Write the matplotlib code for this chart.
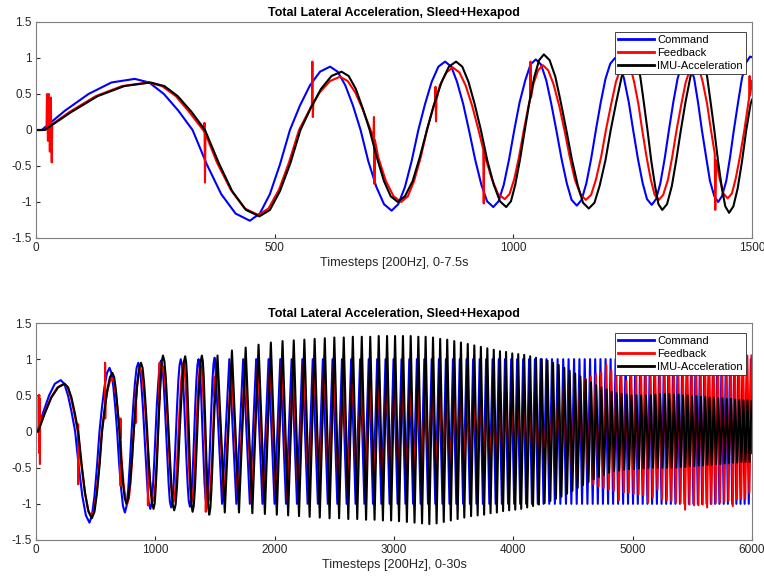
import numpy as np
import matplotlib
matplotlib.use('Agg')
import matplotlib.pyplot as plt

plt.rcParams['font.family'] = ['Liberation Sans', 'DejaVu Sans']

# ------------------------------------------------------------
# data: (timestep, value) key points
# 0..1500 (upper plot, also start of lower plot)
# ------------------------------------------------------------
cmd_top = [
    (0, 0), (12, 0), (61, .27), (110, .50), (158, .66), (207, .71),
    (237, .66), (268, .50), (298, .27), (328, 0),
    (358, -.48), (388, -.89), (418, -1.16), (448, -1.26),
    (469, -1.16), (490, -.89), (511, -.48), (532, 0),
    (553, .34), (574, .62), (595, .81), (616, .88),
    (632, .81), (648, .62), (664, .34), (680, 0),
    (696, -.43), (713, -.79), (729, -1.03), (745, -1.12),
    (759, -1.03), (773, -.79), (787, -.43), (801, 0),
    (815, .36), (829, .67), (843, .88), (857, .95),
    (870, .88), (882, .67), (895, .36), (907, 0),
    (920, -.41), (933, -.76), (945, -.99), (958, -1.07),
    (969, -.99), (980, -.76), (991, -.41), (1002, 0),
    (1013, .38), (1025, .69), (1036, .91), (1047, .98),
    (1058, .91), (1069, .69), (1079, .38), (1090, 0),
    (1101, -.40), (1112, -.74), (1122, -.97), (1133, -1.05),
    (1143, -.97), (1153, -.74), (1163, -.40), (1173, 0),
    (1183, .38), (1193, .71), (1203, .92), (1213, 1.0),
    (1223, .92), (1232, .71), (1242, .38), (1251, 0),
    (1261, -.40), (1271, -.74), (1280, -.96), (1290, -1.04),
    (1299, -.96), (1308, -.74), (1317, -.40), (1326, 0),
    (1335, .38), (1344, .71), (1353, .92), (1362, 1.0),
    (1370, .92), (1379, .71), (1387, .38), (1395, 0),
    (1404, -.38), (1412, -.71), (1421, -.92), (1429, -1.0),
    (1437, -.92), (1446, -.71), (1454, -.38), (1462, 0),
    (1471, .39), (1479, .72), (1488, .94), (1496, 1.02), (1500, 1.01),
]

fb_top = [
    (0, 0), (15, 0), (22, .01), (23, .5), (25, -.15), (27, .5), (29, -.3),
    (31, .45), (33, -.45), (34, .08),
    (70, .25), (125, .47), (180, .61), (235, .66),
    (264, .61), (293, .47), (321, .25), (350, 0),
    (352, -.02), (353, .1), (354, -.73), (355, -.05),
    (379, -.45), (408, -.83), (437, -1.09), (466, -1.18),
    (487, -1.09), (509, -.83), (530, -.45), (551, 0),
    (573, .28), (578, .35), (579, .95), (580, .18), (581, .37),
    (594, .52), (616, .68), (637, .74),
    (653, .68), (669, .52), (685, .28), (701, 0),
    (707, -.1), (708, .18), (709, -.75), (710, -.14),
    (717, -.38), (733, -.71), (749, -.92), (765, -1.0),
    (779, -.92), (792, -.71), (806, -.38), (819, 0),
    (833, .33), (836, .38), (837, .6), (838, .12), (839, .42),
    (846, .62), (860, .80), (873, .87),
    (887, .80), (900, .62), (914, .33), (927, 0),
    (937, -.27), (938, -1.02), (939, -.3),
    (941, -.37), (955, -.68), (968, -.89), (982, -.96),
    (992, -.89), (1002, -.68), (1012, -.37), (1022, 0),
    (1032, .34), (1035, .42), (1036, .95), (1037, .45),
    (1042, .64), (1052, .83), (1062, .9),
    (1073, .83), (1084, .64), (1096, .34), (1107, 0),
    (1118, -.37), (1129, -.69), (1141, -.9), (1152, -.97),
    (1163, -.9), (1173, -.69), (1184, -.37), (1194, 0),
    (1205, .36), (1215, .67), (1226, .88), (1236, .95),
    (1245, .88), (1253, .67), (1262, .36), (1270, 0),
    (1279, -.37), (1288, -.69), (1296, -.9), (1305, -.97),
    (1314, -.9), (1324, -.69), (1333, -.37), (1342, 0),
    (1352, .36), (1361, .66), (1371, .86), (1380, .93),
    (1389, .86), (1397, .66), (1406, .36), (1414, 0),
    (1422, -.33), (1423, -1.11), (1425, -.42),
    (1432, -.67), (1440, -.88), (1449, -.95),
    (1458, -.88), (1466, -.67), (1475, -.36), (1484, 0),
    (1492, .36), (1494, .45), (1495, .75), (1496, .48), (1500, .68),
]

imu_top = [
    (0, 0), (18, 0), (74, .25), (129, .47), (185, .61), (240, .66),
    (269, .61), (297, .47), (326, .25), (354, 0),
    (383, -.46), (411, -.85), (440, -1.11), (468, -1.2),
    (490, -1.11), (511, -.85), (533, -.46), (554, 0),
    (576, .31), (597, .57), (619, .75), (640, .81),
    (655, .75), (670, .57), (684, .31), (699, 0),
    (714, -.38), (729, -.71), (743, -.92), (758, -1.0),
    (773, -.92), (789, -.71), (804, -.38), (819, 0),
    (834, .36), (850, .67), (865, .88), (880, .95),
    (893, .88), (906, .67), (919, .36), (932, 0),
    (945, -.41), (959, -.76), (972, -.99), (985, -1.07),
    (995, -.99), (1004, -.76), (1014, -.41), (1024, 0),
    (1034, .40), (1044, .74), (1054, .97), (1064, 1.05),
    (1076, .97), (1088, .74), (1099, .40), (1111, 0),
    (1123, -.42), (1135, -.77), (1146, -1.01), (1158, -1.09),
    (1170, -1.01), (1181, -.77), (1193, -.42), (1204, 0),
    (1216, .40), (1227, .74), (1239, .96), (1250, 1.04),
    (1258, .96), (1266, .74), (1273, .40), (1281, 0),
    (1289, -.43), (1297, -.78), (1304, -1.03), (1312, -1.11),
    (1322, -1.03), (1332, -.78), (1341, -.43), (1351, 0),
    (1361, .40), (1371, .74), (1380, .97), (1390, 1.05),
    (1398, .97), (1406, .74), (1413, .40), (1421, 0),
    (1429, -.44), (1437, -.81), (1444, -1.06), (1452, -1.15),
    (1461, -1.06), (1470, -.81), (1479, -.44), (1488, 0),
    (1497, .36), (1500, .42),
]

# ------------------------------------------------------------
# 1500..6000 (lower plot only): peaks / troughs
# ------------------------------------------------------------
cmd_ext = [
    (1559, -1.0), (1620, 1.0), (1679, -1.0), (1736, 1.0), (1792, -1.0), (1845, 1.0),
    (1898, -1.0), (1949, 1.0), (1999, -1.0), (2047, 1.0), (2095, -1.0), (2142, 1.0),
    (2187, -1.0), (2232, 1.0), (2276, -1.0), (2319, 1.0), (2362, -1.0), (2404, 1.0),
    (2445, -1.0), (2485, 1.0), (2525, -1.0), (2564, 1.0), (2603, -1.0), (2641, 1.0),
    (2678, -1.0), (2716, 1.0), (2752, -1.0), (2788, 1.0), (2824, -1.0), (2859, 1.0),
    (2894, -1.0), (2929, 1.0), (2963, -1.0), (2996, 1.0), (3030, -1.0), (3063, 1.0),
    (3096, -1.0), (3128, 1.0), (3160, -1.0), (3192, 1.0), (3223, -1.0), (3254, 1.0),
    (3285, -1.0), (3316, 1.0), (3346, -1.0), (3376, 1.0), (3406, -1.0), (3435, 1.0),
    (3465, -1.0), (3494, 1.0), (3522, -1.0), (3551, 1.0), (3579, -1.0), (3608, 1.0),
    (3636, -1.0), (3663, 1.0), (3691, -1.0), (3718, 1.0), (3745, -1.0), (3772, 1.0),
    (3799, -1.0), (3826, 1.0), (3852, -1.0), (3878, 1.0), (3904, -1.0), (3930, 1.0),
    (3956, -1.0), (3982, 1.0), (4007, -1.0), (4032, 1.0), (4057, -1.0), (4082, 1.0),
    (4107, -1.0), (4132, 1.0), (4156, -1.0), (4181, 1.0), (4205, -1.0), (4229, 1.0),
    (4253, -1.0), (4277, 1.0), (4301, -1.0), (4324, 1.0), (4348, -1.0), (4371, 1.0),
    (4394, -1.0), (4418, 1.0), (4441, -1.0), (4463, 1.0), (4486, -1.0), (4509, 1.0),
    (4531, -1.0), (4554, 1.0), (4576, -1.0), (4598, 1.0), (4621, -1.0), (4643, 1.0),
    (4665, -1.0), (4686, 1.0), (4708, -1.0), (4730, 1.0), (4751, -1.0), (4773, 1.0),
    (4794, -1.0), (4815, 1.0), (4836, -1.0), (4857, 1.0), (4878, -1.0), (4899, 1.0),
    (4920, -1.0), (4941, 1.0), (4961, -1.0), (4982, 1.0), (5003, -1.0), (5023, 1.0),
    (5043, -1.0), (5063, 1.0), (5084, -1.0), (5104, 1.0), (5124, -1.0), (5144, 1.0),
    (5163, -1.0), (5183, 1.0), (5203, -1.0), (5222, 1.0), (5242, -1.0), (5262, 1.0),
    (5281, -1.0), (5300, 1.0), (5320, -1.0), (5339, 1.0), (5358, -1.0), (5377, 1.0),
    (5396, -1.0), (5415, 1.0), (5434, -1.0), (5453, 1.0), (5471, -1.0), (5490, 1.0),
    (5509, -1.0), (5527, 1.0), (5546, -1.0), (5564, 1.0), (5582, -1.0), (5601, 1.0),
    (5619, -1.0), (5637, 1.0), (5655, -1.0), (5673, 1.0), (5691, -1.0), (5709, 1.0),
    (5727, -1.0), (5745, 1.0), (5763, -1.0), (5781, 1.0), (5798, -1.0), (5816, 1.0),
    (5834, -1.0), (5851, 1.0), (5869, -1.0), (5886, 1.0), (5904, -1.0), (5921, 1.0),
    (5938, -1.0), (5956, 1.0), (5973, -1.0), (5990, 1.0), (6000, -0.3),
]

fb_ext = [
    (1516, .92),
    (1576, -.96), (1637, .93), (1695, -.97), (1752, .95), (1807, -.98), (1860, .96),
    (1913, -.98), (1963, .97), (2013, -.98), (2061, .98), (2108, -.97), (2155, .97),
    (2200, -.95), (2244, .96), (2288, -.93), (2331, .94), (2374, -.91), (2415, .92),
    (2456, -.88), (2496, .9), (2536, -.85), (2575, .87), (2613, -.82), (2651, .83),
    (2688, -.77), (2726, .78), (2762, -.72), (2798, .74), (2834, -.69), (2868, .71),
    (2903, -.67), (2938, .69), (2972, -.64), (3005, .66), (3039, -.61), (3072, .64),
    (3105, -.59), (3137, .61), (3169, -.56), (3200, .59), (3231, -.54), (3262, .56),
    (3293, -.52), (3324, .55), (3354, -.5), (3384, .53), (3414, -.48), (3443, .51),
    (3473, -.46), (3502, .49), (3530, -.44), (3559, .47), (3586, -.42), (3615, .45),
    (3643, -.4), (3670, .42), (3698, -.38), (3725, .4), (3752, -.36), (3779, .38),
    (3806, -.34), (3833, .36), (3859, -.32), (3885, .34), (3911, -.3), (3937, .32),
    (3963, -.28), (3989, .3), (4014, -.28), (4039, .3), (4064, -.3), (4089, .33),
    (4113, -.32), (4138, .36), (4162, -.34), (4187, .4), (4211, -.37), (4235, .43),
    (4259, -.4), (4283, .47), (4307, -.44), (4330, .51), (4354, -.47), (4377, .55),
    (4400, -.51), (4424, .59), (4447, -.55), (4469, .63), (4492, -.59), (4515, .67),
    (4537, -.63), (4560, .7), (4582, -.66), (4604, .73), (4627, -.7), (4649, .76),
    (4671, -.73), (4692, .79), (4714, -.76), (4736, .82), (4757, -.78), (4779, .92),
    (4800, -.8), (4821, .85), (4842, -.82), (4863, .84), (4884, -.95), (4905, .83),
    (4926, -.84), (4947, .7), (4967, -.85), (4988, .82), (5009, -.86), (5029, .83),
    (5049, -.87), (5069, .95), (5089, -.88), (5109, .85), (5129, -.98), (5149, .86),
    (5168, -.91), (5188, .87), (5208, -.8), (5227, .89), (5247, -.94), (5267, .9),
    (5286, -.95), (5305, 1.0), (5325, -.96), (5344, .93), (5363, -.98), (5382, .85),
    (5401, -.99), (5420, .95), (5439, -1.08), (5458, .96), (5476, -1.01), (5495, .97),
    (5514, -1.02), (5532, .98), (5551, -1.02), (5569, .9), (5587, -1.01), (5606, 1.0),
    (5624, -1.05), (5642, 1.01), (5660, -1.0), (5678, 1.02), (5696, -.99), (5714, 1.02),
    (5732, -.98), (5750, .95), (5768, -.97), (5786, 1.03), (5803, -.96), (5821, 1.04),
    (5839, -1.03), (5856, 1.04), (5874, -.94), (5891, 1.05), (5909, -.93), (5926, .98),
    (5943, -.93), (5961, 1.05), (5978, -.85), (5995, 1.05),
]

imu_ext = [
    (1521, 1.05),
    (1582, -1.12), (1642, 1.12), (1701, -1.12), (1757, 1.16), (1813, -1.13), (1865, 1.2),
    (1918, -1.14), (1968, 1.23), (2018, -1.15), (2066, 1.25), (2113, -1.16), (2160, 1.26),
    (2204, -1.17), (2249, 1.27), (2293, -1.18), (2335, 1.28), (2378, -1.19), (2420, 1.29),
    (2460, -1.2), (2500, 1.3), (2540, -1.2), (2579, 1.3), (2617, -1.21), (2655, 1.31),
    (2692, -1.21), (2730, 1.31), (2766, -1.22), (2801, 1.31), (2837, -1.22), (2872, 1.32),
    (2907, -1.23), (2942, 1.32), (2976, -1.23), (3009, 1.32), (3042, -1.24), (3075, 1.32),
    (3108, -1.25), (3140, 1.32), (3172, -1.26), (3204, 1.31), (3235, -1.27), (3265, 1.31),
    (3296, -1.28), (3327, 1.3), (3357, -1.27), (3387, 1.28), (3417, -1.25), (3446, 1.27),
    (3476, -1.23), (3505, 1.25), (3533, -1.21), (3561, 1.23), (3589, -1.19), (3618, 1.21),
    (3646, -1.17), (3673, 1.19), (3701, -1.16), (3728, 1.17), (3755, -1.15), (3782, 1.15),
    (3809, -1.13), (3836, 1.13), (3862, -1.12), (3888, 1.11), (3914, -1.1), (3939, 1.1),
    (3965, -1.09), (3991, 1.08), (4016, -1.08), (4041, 1.07), (4066, -1.07), (4091, 1.06),
    (4116, -1.05), (4141, 1.04), (4165, -1.03), (4190, 1.02), (4214, -1.01), (4238, 1.0),
    (4262, -.99), (4286, .98), (4310, -.96), (4333, .95), (4357, -.93), (4380, .92),
    (4403, -.9), (4427, .88), (4450, -.86), (4472, .84), (4495, -.82), (4518, .8),
    (4539, -.78), (4562, .76), (4584, -.74), (4606, .72), (4629, -.7), (4651, .68),
    (4673, -.66), (4694, .64), (4716, -.63), (4738, .61), (4759, -.6), (4781, .58),
    (4802, -.57), (4823, .55), (4844, -.55), (4865, .53), (4886, -.54), (4907, .52),
    (4928, -.53), (4949, .51), (4969, -.52), (4990, .5), (5011, -.52), (5031, .5),
    (5051, -.51), (5071, .5), (5091, -.51), (5111, .5), (5131, -.5), (5151, .5),
    (5170, -.5), (5190, .51), (5210, -.5), (5229, .52), (5249, -.5), (5269, .52),
    (5288, -.5), (5307, .52), (5327, -.5), (5346, .51), (5365, -.5), (5384, .51),
    (5403, -.49), (5422, .5), (5441, -.49), (5460, .5), (5478, -.48), (5497, .49),
    (5516, -.48), (5534, .49), (5553, -.47), (5571, .48), (5589, -.47), (5608, .48),
    (5626, -.46), (5644, .47), (5662, -.46), (5680, .47), (5698, -.45), (5716, .46),
    (5734, -.45), (5752, .46), (5770, -.44), (5788, .45), (5805, -.44), (5823, .45),
    (5841, -.43), (5858, .44), (5876, -.43), (5893, .44), (5911, -.42), (5928, .43),
    (5945, -.42), (5962, .43), (5979, -.42), (5996, .42),
]

labels = ['Command', 'Feedback', 'IMU-Acceleration']
colors = ['#0000ff', '#ff0000', '#000000']
title = 'Total Lateral Acceleration, Sleed+Hexapod'
xlabels = ['Timesteps [200Hz], 0-7.5s', 'Timesteps [200Hz], 0-30s']
yticks = [-1.5, -1, -0.5, 0, 0.5, 1, 1.5]
xticks_top = [0, 500, 1000, 1500]
xticks_bot = [0, 1000, 2000, 3000, 4000, 5000, 6000]


def to_xy(pts):
    a = np.array(pts, dtype=float)
    return a[:, 0], a[:, 1]


top_series = [cmd_top, fb_top, imu_top]
bot_series = [cmd_top + cmd_ext, fb_top + fb_ext, imu_top + imu_ext]

# ------------------------------------------------------------
# figure
# ------------------------------------------------------------
W, H = 764, 583
fig = plt.figure(figsize=(W / 100, H / 100), dpi=100)
ax1 = fig.add_axes([36 / W, 1 - 238 / H, 716 / W, 216 / H])
ax2 = fig.add_axes([36 / W, 1 - 540 / H, 716 / W, 217 / H])

for ax, series, xl, xt, xmax in [(ax1, top_series, xlabels[0], xticks_top, 1500),
                                  (ax2, bot_series, xlabels[1], xticks_bot, 6000)]:
    for pts, c, lab in zip(series, colors, labels):
        x, y = to_xy(pts)
        ax.plot(x, y, color=c, linewidth=1.5, label=lab)
    ax.set_xlim(0, xmax)
    ax.set_ylim(-1.5, 1.5)
    ax.set_xticks(xt)
    ax.set_yticks(yticks)
    ax.set_yticklabels(['-1.5', '-1', '-0.5', '0', '0.5', '1', '1.5'])
    ax.tick_params(direction='in', length=3, labelsize=8.5, colors='#262626', pad=3)
    for s in ax.spines.values():
        s.set_color('#7f7f7f')
        s.set_linewidth(0.8)
    ax.set_title(title, fontsize=9, fontweight='bold', pad=4, color='#000000')
    ax.set_xlabel(xl, fontsize=9.2, labelpad=2, color='#262626')
    leg = ax.legend(loc='upper right', bbox_to_anchor=(1 - 6 / 716, 1 - 10 / 216),
                    borderaxespad=0, fontsize=8, handlelength=3.2, handletextpad=0.3,
                    labelspacing=0.25, borderpad=0.3, fancybox=False, framealpha=1)
    leg.get_frame().set_edgecolor('#262626')
    leg.get_frame().set_linewidth(0.6)
    for ln in leg.get_lines():
        ln.set_linewidth(2.0)

fig.savefig('out.png', dpi=100)
